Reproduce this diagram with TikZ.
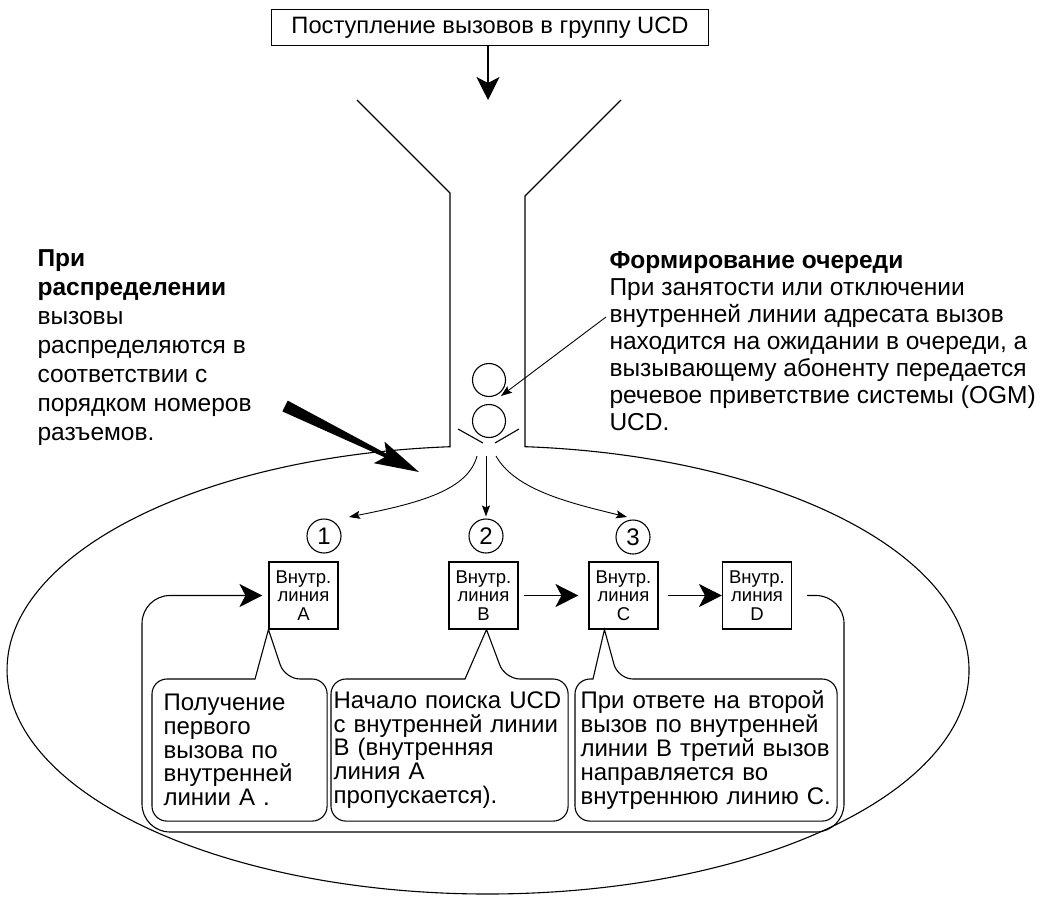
\documentclass[tikz,border=0pt]{standalone}
\usepackage{fontspec}
\setmainfont{Liberation Sans}
\usetikzlibrary{arrows.meta,calc,positioning}

\begin{document}
\begin{tikzpicture}[
        x=1pt, y=-1pt,
        line width=1.1pt,
        linebox/.style={draw, minimum width=69pt, minimum height=67pt, inner sep=1pt,
            align=center, font=\fontsize{18.5}{18.5}\selectfont},
        numcirc/.style={draw, circle, minimum size=34pt, inner sep=0pt,
            font=\fontsize{24}{24}\selectfont},
        queuecirc/.style={draw, circle, minimum size=33pt, inner sep=0pt},
        callbox/.style={anchor=north west, minimum height=141pt, inner ysep=0pt,
            align=left, font=\fontsize{24}{23.8}\selectfont},
        sidetext/.style={anchor=north west, align=left, inner sep=0pt},
        bighead/.style={-{Stealth[length=23pt, width=23pt, inset=6pt]}},
        smallhead/.style={-{Stealth[length=11pt, width=8pt, inset=2pt]}, line width=0.9pt}
    ]
    \useasboundingbox (0,0) rectangle (1043,896);

    \node[
        draw,
        minimum width=437pt,
        minimum height=36pt,
        inner sep=2pt,
        font=\fontsize{23.7}{24}\selectfont
    ] (src) at (490,27.5) {Поступление вызовов в группу UCD};
    \coordinate (fin) at (488,100);
    \draw[bighead] (src.south -| fin) -- (fin);

    \draw (357,100) -- (450,193) -- (450,447);
    \draw (621,100) -- (525,196) -- (525,447);
    \draw (450.3,446.7) arc[start angle=94.5, end angle=445.6, x radius=481pt, y radius=224pt];

    \node[queuecirc] (q1) at (489,380) {};
    \node[queuecirc] (q2) at (489,421) {};
    \draw (458,429) -- (483,443);
    \draw (519,429) -- (495,443);

    \node[sidetext, font=\fontsize{24.5}{29}\selectfont] (distr) at (37,249)
        {\textbf{При}\\\textbf{распределении}\\вызовы\\распределяются в\\соответствии с\\порядком номеров\\разъемов.};
    \node[sidetext, font=\fontsize{24.5}{27}\selectfont] (queue) at (609,251)
        {\textbf{Формирование очереди}\\При занятости или отключении\\внутренней линии адресата вызов\\находится на ожидании в очереди, а\\вызывающему абоненту передается\\речевое приветствие системы (OGM)\\UCD.};

    \coordinate (qtxt) at (606,317);
    \draw[smallhead] (qtxt) -- ($(q2.center)+(12,-25)$);
    \fill (282.3,411.4) -- (384.6,457.3) -- (373.9,463.2) -- (419,472)
        -- (384.5,441.6) -- (386.4,453.7) -- (287.7,400.6) -- cycle;

    \node[numcirc] (n1) at (324,536) {1};
    \node[numcirc] (n2) at (486,536) {2};
    \node[numcirc] (n3) at (633,537) {3};

    \coordinate (mouth) at (486,456);
    \draw[smallhead] ($(mouth)+(-9,0)$) .. controls (468,490) and (420,503) .. ($(n1)+(25,-19)$);
    \draw[smallhead] (mouth) -- ($(n2.north)+(0,-2)$);
    \draw[smallhead] ($(mouth)+(10,0)$) .. controls (515,490) and (570,503) .. ($(n3)+(-6,-20)$);

    \node[linebox] (A) at (303.5,595.5) {Внутр.\\линия\\A};
    \node[linebox] (B) at (483.5,595.5) {Внутр.\\линия\\B};
    \node[linebox] (C) at (623.5,595.5) {Внутр.\\линия\\C};
    \node[linebox] (D) at (757,595.5) {Внутр.\\линия\\D};

    \draw[bighead, shorten <=5pt, shorten >=10pt] (B) -- (C);
    \draw[bighead, shorten <=9pt] (C) -- (D);
    \draw[bighead, rounded corners=28pt, shorten >=6pt] ($(D.east)+(15,0)$) -- (844,595.5)
        -- (844,832) -- (142,832) -- (142,595.5) -- (A.west);

    \node[callbox, text width=152pt, inner xsep=11pt] (c1) at (152,679)
        {Получение\\первого\\вызова по\\внутренней\\линии A .};
    \node[callbox, text width=236pt, inner xsep=0pt] (c2) at (331,679)
        {\hspace*{2pt}Начало поиска UCD\\\hspace*{2pt}с внутренней линии\\\hspace*{2pt}B (внутренняя\\\hspace*{2pt}линия A\\\hspace*{2pt}пропускается).};
    \node[callbox, text width=257pt, inner xsep=2pt] (c3) at (575,679)
        {\hspace*{3pt}При ответе на второй\\\hspace*{3pt}вызов по внутренней\\\hspace*{3pt}линии B третий вызов\\\hspace*{3pt}направляется во\\\hspace*{3pt}внутреннюю линию C.};

    \draw[rounded corners=15pt] ($(c1.north west)+(103,0)$) -- (c1.north west) -- (c1.south west)
        -- (c1.south east) -- (c1.north east) -- ($(c1.north west)+(133,0)$)
        [sharp corners] -- (A.south west) -- cycle;
    \draw[rounded corners=15pt] ($(c2.north west)+(134,0)$) -- (c2.north west) -- (c2.south west)
        -- (c2.south east) -- (c2.north east) -- ($(c2.north west)+(174,0)$)
        [sharp corners] -- ($(B.south)+(3,0)$) -- cycle;
    \draw[rounded corners=15pt] ($(c3.north west)+(18,0)$) -- (c3.north west) -- (c3.south west)
        -- (c3.south east) -- (c3.north east) -- ($(c3.north west)+(43,0)$)
        [sharp corners] -- ($(C.south west)+(16,0)$) -- cycle;
\end{tikzpicture}
\end{document}
